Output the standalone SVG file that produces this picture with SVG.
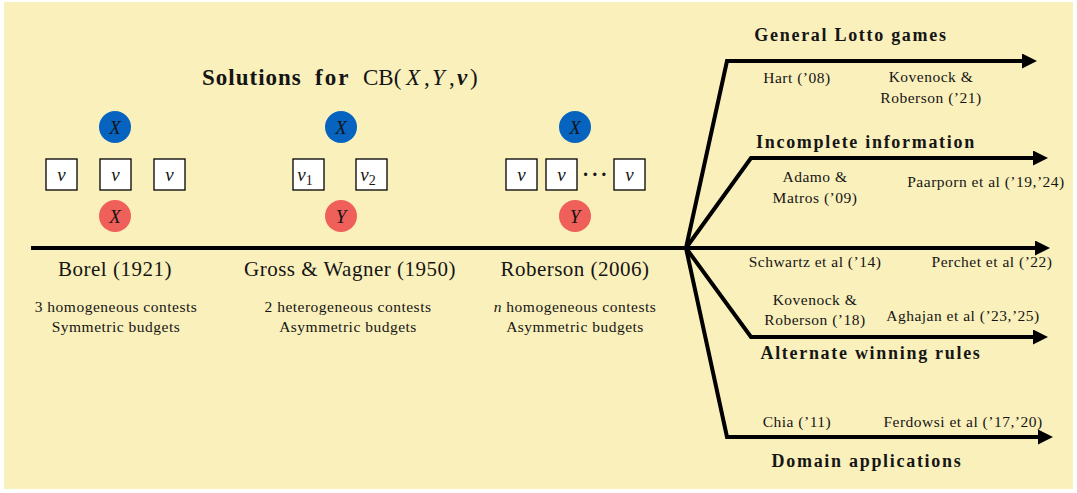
<svg xmlns="http://www.w3.org/2000/svg" width="1077" height="493" viewBox="0 0 1077 493" font-family="'Liberation Serif', 'Times New Roman', Times, 'DejaVu Serif', serif">
<style>
text{font-family:'Liberation Serif','Times New Roman',Times,'DejaVu Serif',serif;fill:#151515;}
.ttl{font-size:21px;letter-spacing:0.5px;text-anchor:middle;}
.sm{font-size:15.5px;letter-spacing:0.5px;text-anchor:middle;}
.bd{font-size:18px;font-weight:bold;letter-spacing:1.7px;text-anchor:middle;}
.mi{font-size:19px;font-style:italic;text-anchor:middle;}
.box{fill:#fff;stroke:#000;stroke-width:1.3;}
.blue{fill:#0664C0;}
.red{fill:#EF605A;}
.conn{fill:none;stroke:#000;stroke-width:4;stroke-linejoin:miter;marker-end:url(#ah);}
</style>
<defs>
<marker id="ah" markerUnits="userSpaceOnUse" markerWidth="16" markerHeight="16" refX="3" refY="7.5" orient="auto">
<path d="M0,0 L15,7.5 L0,15 z" fill="#000"/>
</marker>
</defs>
<rect x="4" y="2" width="1069" height="487" fill="#FAF0BB"/>

<g id="title">
<text y="85" style="font-size:23px"><tspan x="202" font-weight="bold" letter-spacing="1">Solutions</tspan><tspan x="315" font-weight="bold" letter-spacing="2">for</tspan><tspan x="363">CB(</tspan><tspan x="406" font-style="italic">X</tspan><tspan x="424">,</tspan><tspan x="432" font-style="italic">Y</tspan><tspan x="449">,</tspan><tspan x="457" font-style="italic" font-weight="bold">v</tspan><tspan x="470">)</tspan></text>
</g>

<g id="borel">
<circle class="blue" cx="115" cy="127" r="16"/>
<text class="mi" x="115" y="134">X</text>
<rect class="box" x="46" y="159" width="31" height="31"/>
<text class="mi" x="61.5" y="181">v</text>
<rect class="box" x="100" y="159" width="31" height="31"/>
<text class="mi" x="115.5" y="181">v</text>
<rect class="box" x="154" y="159" width="31" height="31"/>
<text class="mi" x="169.5" y="181">v</text>
<circle class="red" cx="115" cy="216" r="16"/>
<text class="mi" x="115" y="223">X</text>
<text class="ttl" x="115" y="276">Borel (1921)</text>
<text class="sm" x="116" y="312">3 homogeneous contests</text>
<text class="sm" x="116" y="332">Symmetric budgets</text>
</g>

<g id="gross-wagner">
<circle class="blue" cx="341" cy="127" r="16"/>
<text class="mi" x="341" y="134">X</text>
<rect class="box" x="293" y="159" width="31" height="31"/>
<text x="305" y="181" style="font-size:19px;font-style:italic;text-anchor:middle">v<tspan font-style="normal" font-size="14" dy="4">1</tspan></text>
<rect class="box" x="356" y="159" width="31" height="31"/>
<text x="368" y="181" style="font-size:19px;font-style:italic;text-anchor:middle">v<tspan font-style="normal" font-size="14" dy="4">2</tspan></text>
<circle class="red" cx="341" cy="216" r="16"/>
<text class="mi" x="341" y="223">Y</text>
<text class="ttl" x="350" y="276">Gross &amp; Wagner (1950)</text>
<text class="sm" x="348" y="312">2 heterogeneous contests</text>
<text class="sm" x="348" y="332">Asymmetric budgets</text>
</g>

<g id="roberson">
<circle class="blue" cx="575" cy="127" r="16"/>
<text class="mi" x="575" y="134">X</text>
<rect class="box" x="506" y="159" width="31" height="31"/>
<text class="mi" x="521.5" y="181">v</text>
<rect class="box" x="546" y="159" width="31" height="31"/>
<text class="mi" x="561.5" y="181">v</text>
<text x="596" y="181" style="font-size:20px;text-anchor:middle;letter-spacing:2.5px;font-weight:bold">···</text>
<rect class="box" x="614" y="159" width="31" height="31"/>
<text class="mi" x="629.5" y="181">v</text>
<circle class="red" cx="575" cy="216" r="16"/>
<text class="mi" x="575" y="223">Y</text>
<text class="ttl" x="575" y="276">Roberson (2006)</text>
<text class="sm" x="575" y="312"><tspan font-style="italic">n</tspan> homogeneous contests</text>
<text class="sm" x="575" y="332">Asymmetric budgets</text>
</g>

<g id="connectors">
<polyline class="conn" points="31,248 1038,248"/>
<polyline class="conn" points="686,248 727,61 1025,61"/>
<polyline class="conn" points="686,248 751,158 1036,158"/>
<polyline class="conn" points="686,248 751,337 1036,337"/>
<polyline class="conn" points="686,248 727,437 1041,437"/>
</g>

<g id="general-lotto">
<text class="bd" x="851" y="41">General Lotto games</text>
<text class="sm" x="797" y="83">Hart (’08)</text>
<text class="sm" x="931" y="82">Kovenock &amp;</text>
<text class="sm" x="931" y="103">Roberson (’21)</text>
</g>

<g id="incomplete-info">
<text class="bd" x="866" y="148">Incomplete information</text>
<text class="sm" x="815" y="182">Adamo &amp;</text>
<text class="sm" x="815" y="203">Matros (’09)</text>
<text class="sm" x="986" y="187">Paarporn et al (’19,’24)</text>
</g>

<g id="main-refs">
<text class="sm" x="815" y="267">Schwartz et al (’14)</text>
<text class="sm" x="992" y="267">Perchet et al (’22)</text>
</g>

<g id="alternate-rules">
<text class="sm" x="815" y="305">Kovenock &amp;</text>
<text class="sm" x="815" y="325">Roberson (’18)</text>
<text class="sm" x="963" y="321">Aghajan et al (’23,’25)</text>
<text class="bd" x="871" y="359">Alternate winning rules</text>
</g>

<g id="domain-apps">
<text class="sm" x="797" y="427">Chia (’11)</text>
<text class="sm" x="963" y="427">Ferdowsi et al (’17,’20)</text>
<text class="bd" x="867" y="467">Domain applications</text>
</g>
</svg>
